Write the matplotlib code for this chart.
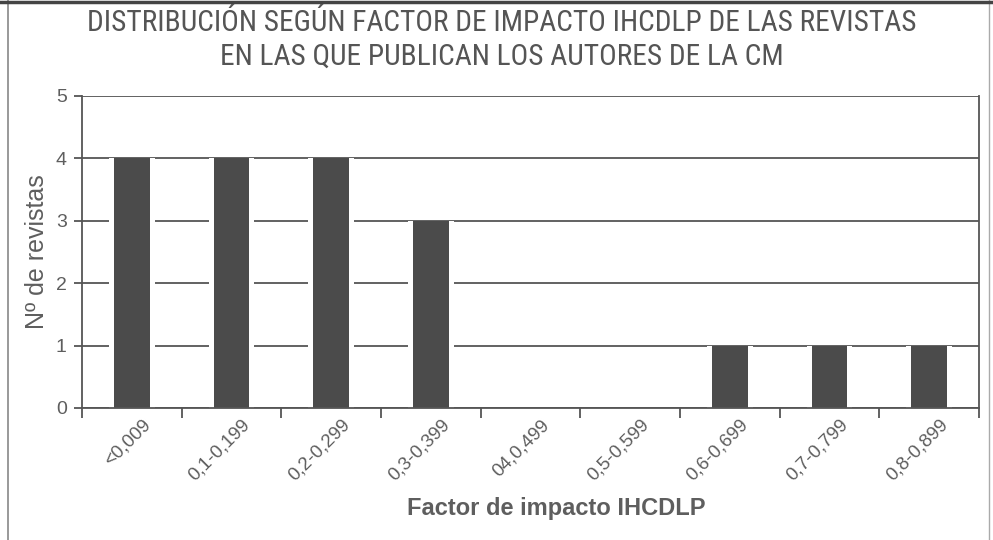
import matplotlib
matplotlib.use("Agg")
import matplotlib.pyplot as plt
import matplotlib.transforms as mtransforms
from matplotlib.lines import Line2D
import numpy as np

categories = ["<0,009", "0,1-0,199", "0,2-0,299", "0,3-0,399", "04,0,499",
              "0,5-0,599", "0,6-0,699", "0,7-0,799", "0,8-0,899"]
values = [4, 4, 4, 3, 0, 0, 1, 1, 1]
y_ticks = [0, 1, 2, 3, 4, 5]

title = "DISTRIBUCIÓN SEGÚN FACTOR DE IMPACTO IHCDLP DE LAS REVISTAS\nEN LAS QUE PUBLICAN LOS AUTORES DE LA CM"
xlabel = "Factor de impacto IHCDLP"
ylabel = "Nº de revistas"

plt.rcParams['font.family'] = ['Liberation Sans', 'DejaVu Sans']

TXT = "#5e5e5e"
BAR = "#4b4b4b"
GRID = "#555555"

fig = plt.figure(figsize=(9.93, 5.40), dpi=100)
ax = fig.add_axes([82/993, 132/540, (979-82)/993, (408-96)/540])

x = np.arange(len(categories))
# white halo behind each bar (interrupts gridlines), then dark bar
ax.bar(x, values, width=0.46, color="white", linewidth=0, zorder=2)
ax.bar(x, values, width=0.36, color=BAR, linewidth=0, zorder=3)

ax.set_xlim(-0.5, len(categories) - 0.5)
ax.set_ylim(0, 5)
ax.set_yticks(y_ticks)
ax.set_yticklabels([str(v) for v in y_ticks], fontsize=14, color=TXT)
ax.yaxis.grid(True, color=GRID, linewidth=1.3, zorder=1)
ax.set_axisbelow(True)

ax.set_xticks(x)
ax.set_xticklabels(categories, rotation=45, ha="right", va="top",
                   rotation_mode="anchor", fontsize=13.5, color=TXT)
ax.tick_params(axis="x", which="major", length=0, pad=6)
ax.set_xticks(np.arange(-0.5, len(categories), 1.0), minor=True)
ax.tick_params(axis="x", which="minor", length=7, width=1.3, color=GRID, direction="out")
ax.tick_params(axis="y", length=6, width=1.3, color=GRID, direction="out", pad=5)
offset = mtransforms.ScaledTranslation(10/100, 0, fig.dpi_scale_trans)
for lab in ax.get_xticklabels():
    lab.set_transform(lab.get_transform() + offset)

for s in ["left", "right", "bottom"]:
    ax.spines[s].set_color(GRID)
    ax.spines[s].set_linewidth(1.3)
    ax.spines[s].set_zorder(4)
ax.spines["top"].set_visible(False)

ax.set_ylabel(ylabel, fontsize=18, color=TXT)
ax.yaxis.set_label_coords(-0.037, 0.5)
fig.text(556/993, 1 - 508/540, xlabel, ha="center", va="center",
         fontsize=17, color=TXT, fontweight="bold")
fig.text(502/993, 1 - 40/540, title, ha="center", va="center",
         fontsize=21.2, color="#555555", fontweight="normal",
         family=['Roboto Condensed', 'Liberation Sans', 'DejaVu Sans'],
         linespacing=1.28)

# outer frame of the scanned figure
fig.add_artist(Line2D([8/993, 8/993], [0, 1], transform=fig.transFigure, color="#888888", lw=1.2))
fig.add_artist(Line2D([989/993, 989/993], [0, 1], transform=fig.transFigure, color="#aaaaaa", lw=1.0))
fig.add_artist(Line2D([0, 1], [1 - 1.5/540, 1 - 1.5/540], transform=fig.transFigure, color="#444444", lw=2.5))

fig.savefig("out.png", dpi=100)
